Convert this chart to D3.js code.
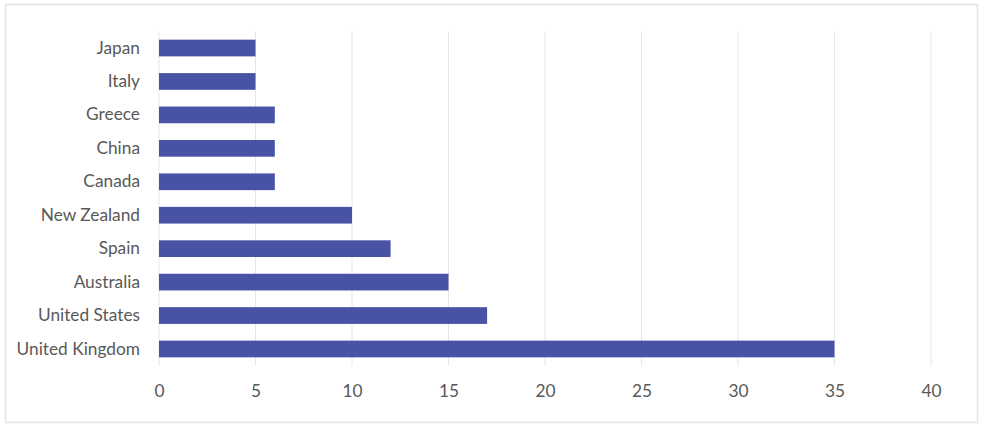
<!DOCTYPE html>
<html lang="en">
<head>
    <meta charset="UTF-8">
    <title>Countries bar chart</title>
    <style>
        body { margin: 0; background: #fff; }
        .tick text {
            font-family: Lato, sans-serif;
            font-size: 17.3px;
            fill: #595959;
        }
        .grid line { stroke: #e6e6e6; stroke-width: 1px; }
    </style>
    <script src="https://d3js.org/d3.v7.min.js"></script>
</head>
<body>
    <script>
        // data, top to bottom
        const countries = ["Japan", "Italy", "Greece", "China", "Canada",
            "New Zealand", "Spain", "Australia", "United States", "United Kingdom"];
        const counts = [5, 5, 6, 6, 6, 10, 12, 15, 17, 35];
        const xTicks = [0, 5, 10, 15, 20, 25, 30, 35, 40];

        const width = 982, height = 429;
        const svg = d3.select("body").append("svg")
            .attr("width", width)
            .attr("height", height);

        // outer frame
        svg.append("rect")
            .attr("x", 5.5).attr("y", 4.5)
            .attr("width", 972).attr("height", 418)
            .attr("fill", "#fff")
            .attr("stroke", "#e3e3e3")
            .attr("stroke-width", 1.5);

        const plotLeft = 159, plotRight = 931, plotTop = 31.3, plotBottom = 365.7;

        const x = d3.scaleLinear().domain([0, 40]).range([plotLeft, plotRight]);
        const y = d3.scaleBand().domain(countries).range([plotTop, plotBottom])
            .paddingInner(0.5).paddingOuter(0.25);

        // vertical gridlines
        svg.append("g")
            .attr("class", "grid")
            .selectAll("line")
            .data(xTicks)
            .enter().append("line")
            .attr("x1", d => x(d)).attr("x2", d => x(d))
            .attr("y1", plotTop).attr("y2", plotBottom);

        // bars
        svg.append("g")
            .selectAll("rect")
            .data(counts)
            .enter().append("rect")
            .attr("x", x(0))
            .attr("y", (d, i) => y(countries[i]))
            .attr("width", d => x(d) - x(0))
            .attr("height", y.bandwidth())
            .attr("fill", "#4953a6");

        // category labels
        const yAxis = svg.append("g")
            .attr("transform", `translate(${plotLeft - 19},0)`)
            .call(d3.axisLeft(y).tickSize(0).tickPadding(0));
        yAxis.select(".domain").remove();

        // value axis
        const xAxis = svg.append("g")
            .attr("transform", `translate(0,${plotBottom + 19})`)
            .call(d3.axisBottom(x).tickValues(xTicks).tickSize(0).tickPadding(0));
        xAxis.select(".domain").remove();
        xAxis.selectAll("text").attr("dy", "0.71em");
    </script>
</body>
</html>
